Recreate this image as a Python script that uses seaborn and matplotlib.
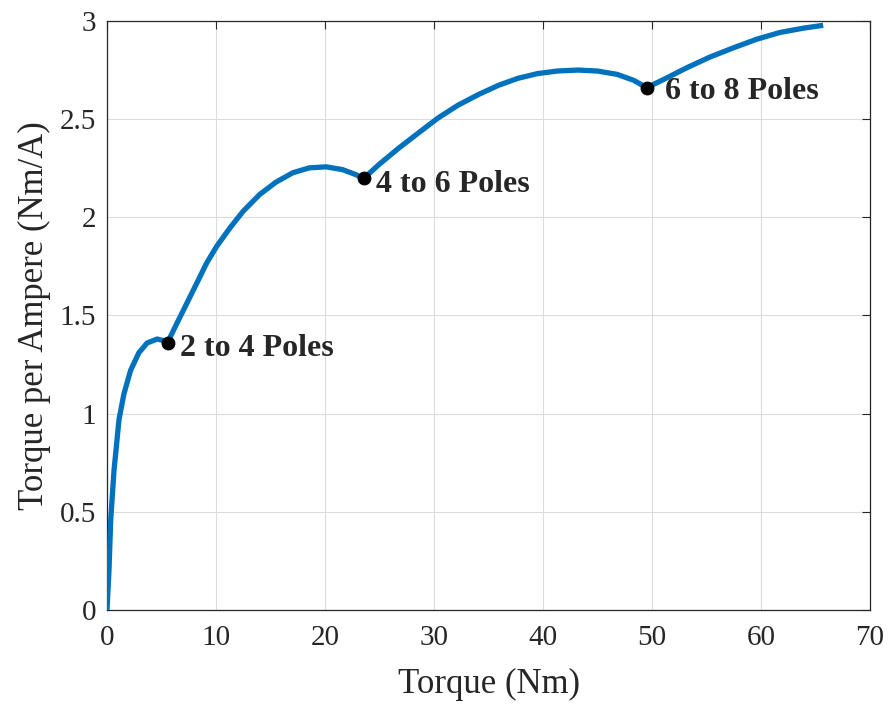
import numpy as np
import pandas as pd
import matplotlib
matplotlib.use("Agg")
import matplotlib.pyplot as plt
import seaborn as sns

# torque (Nm) vs torque per ampere (Nm/A), one list per pole segment
seg1_x = [0.0, 0.18, 0.34, 0.64, 1.1, 1.55, 2.16, 2.92, 3.68, 4.6, 5.2, 5.55]
seg1_y = [0.0, 0.2, 0.46, 0.71, 0.97, 1.10, 1.22, 1.31, 1.36, 1.38, 1.372, 1.362]
seg2_x = [5.55, 6.42, 7.33, 8.24, 9.14, 10.06, 11.28, 12.49, 14.0, 15.5, 17.05,
          18.57, 20.1, 21.6, 22.8, 23.55]
seg2_y = [1.362, 1.461, 1.563, 1.665, 1.767, 1.852, 1.946, 2.031, 2.116, 2.179,
          2.227, 2.252, 2.257, 2.243, 2.218, 2.198]
seg3_x = [23.55, 24.95, 26.8, 28.6, 30.4, 32.2, 34.1, 35.9, 37.7, 39.5, 41.3,
          43.2, 45.0, 46.8, 48.35, 49.5]
seg3_y = [2.198, 2.269, 2.354, 2.431, 2.507, 2.571, 2.626, 2.672, 2.708, 2.732,
          2.745, 2.75, 2.745, 2.728, 2.697, 2.66]
seg4_x = [49.5, 51.1, 53.2, 55.3, 57.5, 59.6, 61.7, 63.85, 65.7]
seg4_y = [2.66, 2.703, 2.762, 2.816, 2.864, 2.907, 2.941, 2.963, 2.978]

switch_x = [5.55, 23.55, 49.5]
switch_y = [1.362, 2.198, 2.66]
switch_labels = ["2 to 4 Poles", "4 to 6 Poles", "6 to 8 Poles"]

curve = pd.DataFrame({
    "torque": seg1_x + seg2_x[1:] + seg3_x[1:] + seg4_x[1:],
    "tpa": seg1_y + seg2_y[1:] + seg3_y[1:] + seg4_y[1:],
})
points = pd.DataFrame({"torque": switch_x, "tpa": switch_y})

sns.set_style("white")
plt.rcParams["font.family"] = ["Liberation Serif", "DejaVu Serif"]
plt.rcParams["text.color"] = "#262626"
plt.rcParams["axes.labelcolor"] = "#262626"
plt.rcParams["xtick.color"] = "#262626"
plt.rcParams["ytick.color"] = "#262626"

fig = plt.figure(figsize=(8.94, 7.06), dpi=100)
ax = fig.add_axes([0.1197, 0.1360, 0.8535, 0.8343])

sns.lineplot(data=curve, x="torque", y="tpa", sort=False, estimator=None,
             color="#0072BD", linewidth=3.8, ax=ax, zorder=3,
             solid_joinstyle="round", solid_capstyle="butt")
sns.scatterplot(data=points, x="torque", y="tpa", color="black", s=85,
                edgecolor="black", ax=ax, zorder=4)

offsets = [(9, -4), (9, -4.5), (13, -3)]
for x, y, lab, off in zip(switch_x, switch_y, switch_labels, offsets):
    ax.annotate(lab, (x, y), xytext=off, textcoords="offset points",
                ha="left", va="center", fontsize=23, fontweight="bold",
                color="#262626")

ax.set_xlim(0, 70)
ax.set_ylim(0, 3)
ax.set_xticks(np.arange(0, 71, 10))
ax.set_yticks(np.arange(0, 3.01, 0.5))
ax.set_yticklabels(["0", "0.5", "1", "1.5", "2", "2.5", "3"])
ax.grid(True, color="#dcdcdc", linewidth=0.8)
ax.tick_params(direction="in", length=6, width=0.8, labelsize=21,
               top=True, right=True, pad=8)
ax.tick_params(axis="x", pad=11)
for s in ax.spines.values():
    s.set_color("#262626")
    s.set_linewidth(0.9)

ax.set_xlabel("Torque (Nm)", fontsize=25, labelpad=12)
ax.set_ylabel("Torque per Ampere (Nm/A)", fontsize=25, labelpad=6)

fig.savefig("out.png", dpi=100)
